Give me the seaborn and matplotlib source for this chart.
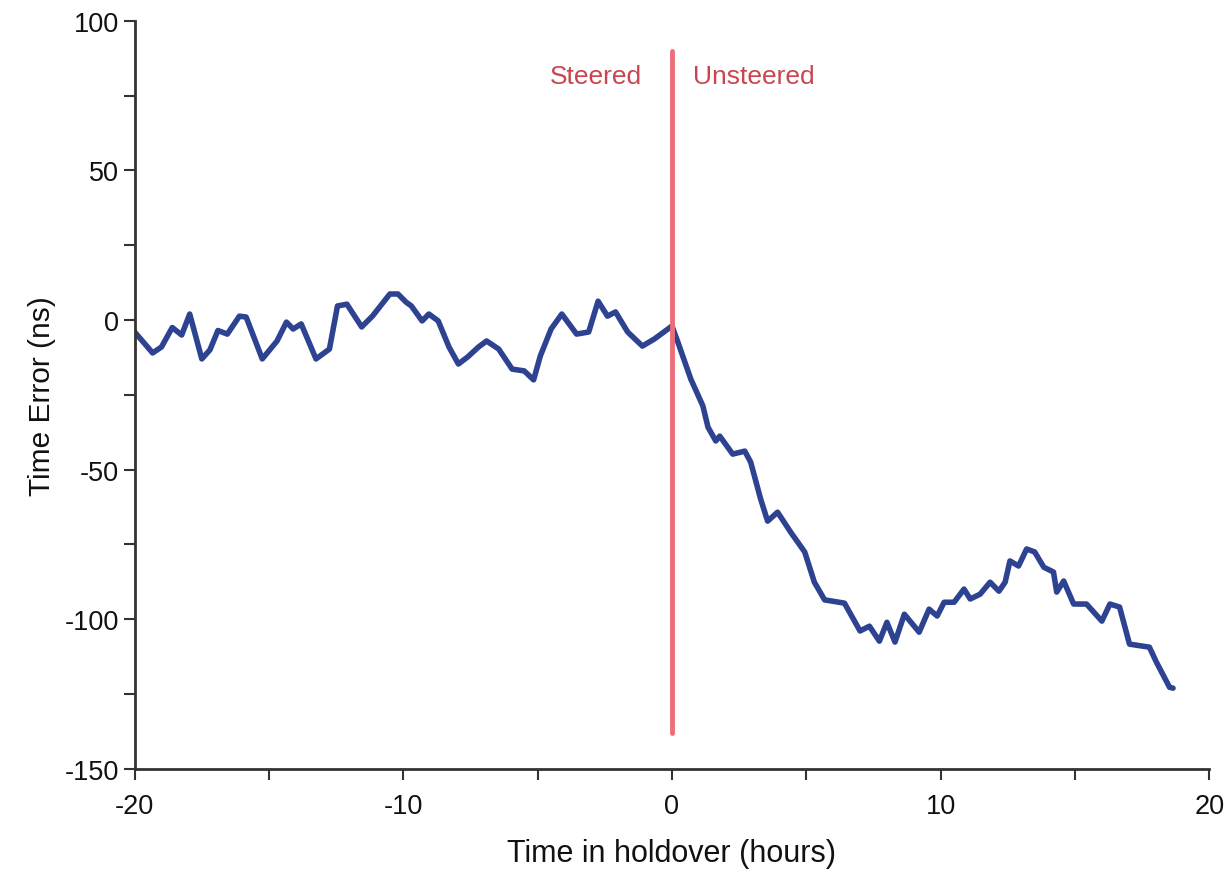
import matplotlib
matplotlib.use("Agg")
import matplotlib.pyplot as plt
import pandas as pd
import seaborn as sns

# time in holdover (hours) and time error (ns)
hours = [-20.0, -19.33, -19.0, -18.6, -18.25, -17.95, -17.5, -17.2, -16.9, -16.55,
         -16.1, -15.85, -15.25, -14.7, -14.35, -14.1, -13.8, -13.25, -12.75, -12.45,
         -12.1, -11.55, -11.15, -10.5, -10.2, -9.9, -9.7, -9.3, -9.05, -8.7,
         -8.3, -7.95, -7.6, -7.2, -6.9, -6.45, -5.95, -5.5, -5.15, -4.9,
         -4.5, -4.1, -3.55, -3.1, -2.75, -2.4, -2.1, -1.65, -1.1, -0.65,
         -0.15, 0.0, 0.22, 0.7, 1.15, 1.34, 1.63, 1.78, 2.26, 2.71,
         2.93, 3.3, 3.56, 3.93, 4.42, 4.94, 5.3, 5.68, 6.42, 7.0,
         7.35, 7.72, 8.0, 8.3, 8.65, 9.2, 9.57, 9.87, 10.13, 10.5,
         10.87, 11.1, 11.47, 11.84, 12.17, 12.4, 12.58, 12.9, 13.2, 13.5,
         13.84, 14.2, 14.32, 14.58, 14.95, 15.43, 16.0, 16.3, 16.66, 17.03,
         17.77, 18.03, 18.52, 18.65]
time_error = [-4, -11, -9, -2.5, -5, 2, -13, -10, -3.5, -4.7,
              1.3, 1, -13, -7, -0.7, -3, -1.3, -13, -9.7, 4.7,
              5.3, -2.3, 1.3, 8.7, 8.7, 6, 4.7, -0.3, 2, -0.3,
              -9, -14.7, -12.3, -9, -7, -9.7, -16.4, -17, -20, -12,
              -3, 2, -4.7, -4, 6.3, 1.3, 2.7, -4, -8.7, -6.3,
              -3, -2, -7.4, -19.7, -28.7, -35.8, -40.4, -38.8, -44.8, -43.8,
              -47.5, -59.8, -67.2, -64.2, -70.9, -77.5, -87.6, -93.5, -94.6, -103.9,
              -102.3, -107.3, -101, -107.6, -98.3, -104.3, -96.6, -98.9, -94.3, -94.3,
              -89.9, -93.2, -91.6, -87.6, -90.6, -87.6, -80.5, -82.2, -76.5, -77.5,
              -82.6, -84.2, -90.9, -87.2, -94.9, -94.9, -100.6, -94.9, -95.9, -108.3,
              -109.3, -114.3, -122.7, -123]

df = pd.DataFrame({"hours": hours, "error": time_error})

sns.set_style("ticks")
plt.rcParams["font.family"] = ["Liberation Sans", "DejaVu Sans"]
plt.rcParams["axes.unicode_minus"] = False

fig = plt.figure(figsize=(12.24, 8.7), dpi=100)
ax = fig.add_axes([0.110, 0.115, 0.878, 0.860])

sns.lineplot(data=df, x="hours", y="error", color="#2d4290", linewidth=4, ax=ax)

# steered / unsteered boundary
ax.plot([0, 0], [-138, 90], color="#ec6e78", linewidth=3.5)
ax.text(-1.1, 81.5, "Steered", color="#c9454f", fontsize=19, ha="right", va="center")
ax.text(0.8, 81.5, "Unsteered", color="#c9454f", fontsize=19, ha="left", va="center")

ax.set_xlim(-20, 20)
ax.set_ylim(-150, 100)
ax.set_xticks([-20, -10, 0, 10, 20])
ax.set_xticks([-15, -5, 5, 15], minor=True)
ax.set_yticks([-150, -100, -50, 0, 50, 100])
ax.set_yticks([-125, -75, -25, 25, 75], minor=True)
ax.tick_params(axis="both", which="both", direction="out", length=8, width=1.5,
               color="#333333", labelsize=19.5, labelcolor="#111111")
ax.tick_params(axis="x", pad=9)

for side in ["left", "bottom"]:
    ax.spines[side].set_linewidth(2)
    ax.spines[side].set_color("#333333")
sns.despine(ax=ax)

ax.set_xlabel("Time in holdover (hours)", fontsize=22, labelpad=14, color="#111111")
ax.set_ylabel("Time Error (ns)", fontsize=21.5, labelpad=6, color="#111111")

fig.savefig("out.png", dpi=100)
